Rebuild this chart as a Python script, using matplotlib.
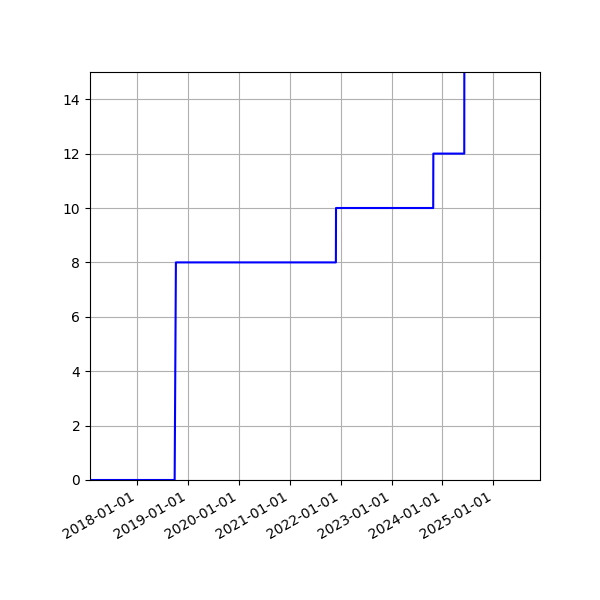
import matplotlib
matplotlib.use("Agg")
import matplotlib.pyplot as plt
import matplotlib.dates as mdates
import numpy as np

# cumulative count, one row per change point
dates = np.array([
    "2017-01-26", "2018-09-26", "2018-10-05", "2021-11-27", "2021-11-28",
    "2023-10-27", "2023-10-28", "2024-06-06", "2024-06-07", "2025-12-02",
], dtype="datetime64[D]")
values = [0, 0, 8, 8, 10, 10, 12, 12, 18, 18]

x_start = np.datetime64("2017-01-26")
x_end = np.datetime64("2025-12-02")

fig, ax = plt.subplots(figsize=(6, 6), dpi=100)
ax.plot(dates, values, color="blue")
ax.set_xlim(x_start, x_end)
ax.set_ylim(0, 15)
ax.xaxis.set_major_locator(mdates.YearLocator())
ax.xaxis.set_major_formatter(mdates.DateFormatter("%Y-%m-%d"))
ax.grid(True)
fig.autofmt_xdate()
fig.subplots_adjust(left=0.15, right=0.9, top=0.88, bottom=0.2)

fig.savefig("out.png", dpi=100)
